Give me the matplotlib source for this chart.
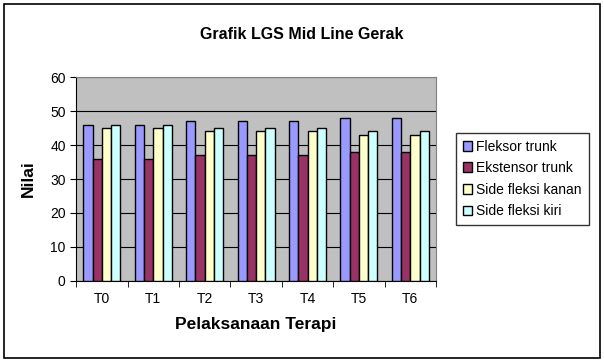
import matplotlib
matplotlib.use("Agg")
import matplotlib.pyplot as plt
from matplotlib.patches import Rectangle
import numpy as np

plt.rcParams["font.family"] = ["Liberation Sans", "DejaVu Sans"]

categories = ["T0", "T1", "T2", "T3", "T4", "T5", "T6"]
fleksor = [46, 46, 47, 47, 47, 48, 48]
ekstensor = [36, 36, 37, 37, 37, 38, 38]
side_kanan = [45, 45, 44, 44, 44, 43, 43]
side_kiri = [46, 46, 45, 45, 45, 44, 44]

series = [
    ("Fleksor trunk", fleksor, "#9999FF"),
    ("Ekstensor trunk", ekstensor, "#993366"),
    ("Side fleksi kanan", side_kanan, "#FFFFCC"),
    ("Side fleksi kiri", side_kiri, "#CCFFFF"),
]

fig = plt.figure(figsize=(6.04, 3.62), dpi=100)
fig.patches.append(Rectangle((0.006, 0.01), 0.988, 0.98, transform=fig.transFigure,
                             fill=False, edgecolor="black", linewidth=1.2))
ax = fig.add_axes([0.126, 0.224, 0.596, 0.563])
ax.set_facecolor("#C0C0C0")

x = np.arange(len(categories))
width = 0.18
for i, (label, vals, color) in enumerate(series):
    ax.bar(x + (i - 1.5) * width, vals, width, color=color, edgecolor="black",
           linewidth=1.0, label=label, zorder=3)

ax.set_xlim(-0.5, len(categories) - 0.5)
ax.set_ylim(0, 60)
ax.set_yticks(range(0, 61, 10))
ax.grid(axis="y", color="black", linewidth=0.8, zorder=0)
ax.set_axisbelow(True)
ax.set_xticks(x)
ax.set_xticklabels(categories, fontsize=10)
ax.tick_params(axis="x", length=0, pad=8)
ax.set_xticks(np.arange(-0.5, len(categories)), minor=True)
ax.tick_params(axis="x", which="minor", length=4, direction="out")
ax.tick_params(axis="y", labelsize=10, length=4, direction="out")
for side in ["top", "right"]:
    ax.spines[side].set_color("#808080")
ax.spines["left"].set_color("black")
ax.spines["bottom"].set_color("black")

ax.set_ylabel("Nilai", fontsize=12.5, fontweight="bold", labelpad=10)
ax.set_xlabel("Pelaksanaan Terapi", fontsize=12.5, fontweight="bold", labelpad=8)
fig.text(0.5, 0.905, "Grafik LGS Mid Line Gerak", ha="center", va="center",
         fontsize=11.5, fontweight="bold")

leg = ax.legend(loc="center left", bbox_to_anchor=(1.035, 0.5), fontsize=10,
                frameon=True, fancybox=False, edgecolor="black",
                handlelength=0.7, handleheight=0.7, handletextpad=0.3,
                labelspacing=0.55, borderpad=0.5)
leg.get_frame().set_linewidth(1.0)

fig.savefig("out.png", dpi=100)
